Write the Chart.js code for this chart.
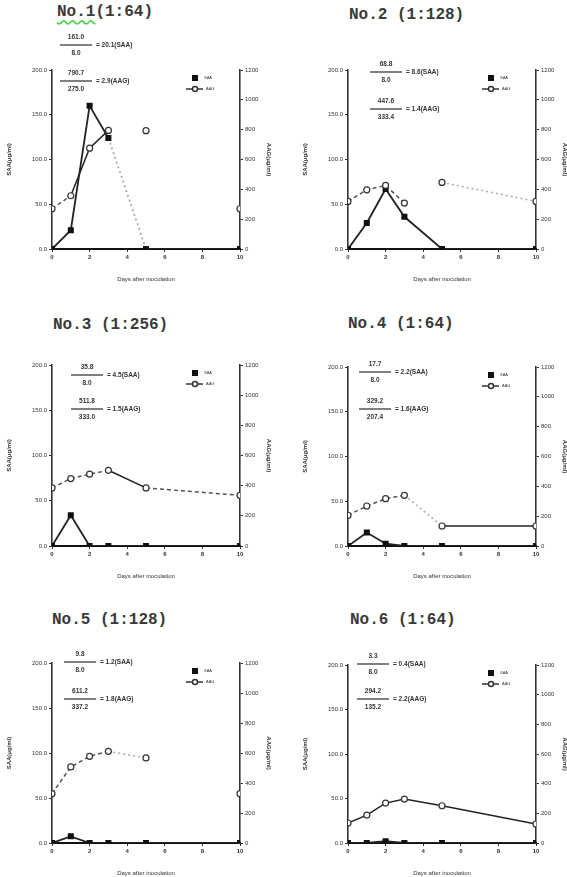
<!DOCTYPE html>
<html>
<head>
    <title>SAA / AAG after inoculation</title>
    <script src="https://cdn.jsdelivr.net/npm/chart.js@4.4.0/dist/chart.umd.min.js"></script>
    <style>
        body {
            margin: 0;
            width: 567px;
            height: 877px;
            overflow: hidden;
            background: #fff;
            position: relative;
            font-family: "Liberation Sans", Arial, sans-serif;
        }
        .title {
            position: absolute;
            font-family: "Liberation Mono", "DejaVu Sans Mono", monospace;
            font-weight: bold;
            font-size: 16px;
            color: #3a3a3a;
            white-space: pre;
            line-height: 16px;
        }
        .squiggle {
            text-decoration: underline wavy #4c4;
            text-underline-offset: 3px;
        }
        canvas {
            position: absolute;
        }
    </style>
</head>
<body>
    <div class="title" style="left:57px; top:4px;"><span class="squiggle">No.1</span>(1:64)</div>
    <div class="title" style="left:349px; top:7px;">No.2 (1:128)</div>
    <div class="title" style="left:53px; top:317px;">No.3 (1:256)</div>
    <div class="title" style="left:348px; top:316px;">No.4 (1:64)</div>
    <div class="title" style="left:52px; top:612px;">No.5 (1:128)</div>
    <div class="title" style="left:350px; top:612px;">No.6 (1:64)</div>

    <canvas id="c1"></canvas>
    <canvas id="c2"></canvas>
    <canvas id="c3"></canvas>
    <canvas id="c4"></canvas>
    <canvas id="c5"></canvas>
    <canvas id="c6"></canvas>

    <script>
        // Days after inoculation (same for every animal)
        const days = [0, 1, 2, 3, 5, 10];

        // SAA (ug/ml, left axis) per animal
        const saa1 = [0, 21, 160, 124, 0, 0];
        const saa2 = [0, 29, 67, 36, 0, 0];
        const saa3 = [0, 34, 0, 0, 0, 0];
        const saa4 = [0, 15, 2.6, 0, 0, 0];
        const saa5 = [0, 7.4, 0, 0, 0, 0];
        const saa6 = [0, 0, 2, 0, 0, 0];

        // AAG (ug/ml, right axis) per animal
        const aag1 = [270, 357, 676, 795, 793, 270];
        const aag2 = [319, 397, 426, 308, 446, 319];
        const aag3 = [385, 447, 476, 502, 385, 336];
        const aag4 = [206, 268, 317, 340, 134, 134];
        const aag5 = [329, 507, 578, 611, 567, 329];
        const aag6 = [135, 188, 269, 296, 251, 128];

        // Fold-change annotations: [numerator, denominator, result]
        const saaRatio1 = ['161.0', '8.0', '= 20.1(SAA)'];
        const aagRatio1 = ['790.7', '275.0', '= 2.9(AAG)'];
        const saaRatio2 = ['68.8', '8.0', '= 8.6(SAA)'];
        const aagRatio2 = ['447.6', '333.4', '= 1.4(AAG)'];
        const saaRatio3 = ['35.8', '8.0', '= 4.5(SAA)'];
        const aagRatio3 = ['511.8', '333.0', '= 1.5(AAG)'];
        const saaRatio4 = ['17.7', '8.0', '= 2.2(SAA)'];
        const aagRatio4 = ['329.2', '207.4', '= 1.6(AAG)'];
        const saaRatio5 = ['9.8', '8.0', '= 1.2(SAA)'];
        const aagRatio5 = ['611.2', '337.2', '= 1.8(AAG)'];
        const saaRatio6 = ['3.3', '8.0', '= 0.4(SAA)'];
        const aagRatio6 = ['294.2', '135.2', '= 2.2(AAG)'];

        // Axis ticks
        const saaMax = 200, saaStep = 50;
        const aagMax = 1200, aagStep = 200;
        const dayMax = 10, dayStep = 2;

        // Line style of each segment (segment i joins point i and i+1)
        const lineStyles = {
            solid: { color: '#222', dash: [] },
            dash:  { color: '#555', dash: [4, 3] },
            dot:   { color: '#aaa', dash: [2, 3] },
            none:  { color: 'rgba(0,0,0,0)', dash: [] }
        };

        const panels = [
            { id: 'c1', left: 0,   top: 0,   padTop: 70, plotH: 179, saa: saa1, aag: aag1,
              saaSeg: ['solid', 'solid', 'solid', 'dot', 'solid'],
              aagSeg: ['dash', 'solid', 'solid', 'none', 'none'],
              saaR: saaRatio1, aagR: aagRatio1, fx: 24, fs: -25, fa: 11 },
            { id: 'c2', left: 296, top: 0,   padTop: 70, plotH: 179, saa: saa2, aag: aag2,
              saaSeg: ['solid', 'solid', 'solid', 'solid', 'solid'],
              aagSeg: ['dash', 'dash', 'dash', 'none', 'dot'],
              saaR: saaRatio2, aagR: aagRatio2, fx: 38, fs: 2, fa: 39 },
            { id: 'c3', left: 0,   top: 295, padTop: 70, plotH: 181, saa: saa3, aag: aag3,
              saaSeg: ['solid', 'solid', 'solid', 'solid', 'solid'],
              aagSeg: ['dash', 'dash', 'dash', 'solid', 'dash'],
              saaR: saaRatio3, aagR: aagRatio3, fx: 35, fs: 10, fa: 44 },
            { id: 'c4', left: 296, top: 295, padTop: 72, plotH: 179, saa: saa4, aag: aag4,
              saaSeg: ['solid', 'solid', 'solid', 'solid', 'solid'],
              aagSeg: ['dash', 'dash', 'dash', 'dot', 'solid'],
              saaR: saaRatio4, aagR: aagRatio4, fx: 27, fs: 5, fa: 42 },
            { id: 'c5', left: 0,   top: 590, padTop: 73, plotH: 180, saa: saa5, aag: aag5,
              saaSeg: ['solid', 'solid', 'solid', 'solid', 'solid'],
              aagSeg: ['dash', 'dash', 'dash', 'dot', 'none'],
              saaR: saaRatio5, aagR: aagRatio5, fx: 28, fs: -1, fa: 36 },
            { id: 'c6', left: 296, top: 590, padTop: 75, plotH: 178, saa: saa6, aag: aag6,
              saaSeg: ['solid', 'solid', 'solid', 'solid', 'solid'],
              aagSeg: ['solid', 'solid', 'solid', 'solid', 'solid'],
              saaR: saaRatio6, aagR: aagRatio6, fx: 25, fs: -1, fa: 34 }
        ];

        function drawFraction(ctx, cx, barY, r) {
            ctx.save();
            ctx.strokeStyle = '#555';
            ctx.lineWidth = 1.5;
            ctx.beginPath();
            ctx.moveTo(cx - 16, barY);
            ctx.lineTo(cx + 16, barY);
            ctx.stroke();
            ctx.fillStyle = '#333';
            ctx.font = 'bold 6.5px "Liberation Sans", Arial';
            ctx.textAlign = 'center';
            ctx.textBaseline = 'middle';
            ctx.fillText(r[0], cx, barY - 8);
            ctx.fillText(r[1], cx, barY + 8);
            ctx.textAlign = 'left';
            ctx.fillText(r[2], cx + 20, barY);
            ctx.restore();
        }

        // Fractions and the small legend
        const annotate = {
            id: 'annotate',
            afterDraw(chart) {
                const p = chart.options.plugins.annotate;
                const ctx = chart.ctx;
                const a = chart.chartArea;
                drawFraction(ctx, a.left + p.fx, a.top + p.fs, p.saaR);
                drawFraction(ctx, a.left + p.fx, a.top + p.fa, p.aagR);

                // legend
                const lx = a.right - 45, ly = a.top + 8;
                ctx.save();
                ctx.fillStyle = '#111';
                ctx.fillRect(lx - 3, ly - 3, 6, 6);
                ctx.strokeStyle = '#333';
                ctx.lineWidth = 1.5;
                ctx.beginPath();
                ctx.moveTo(lx - 9, ly + 11);
                ctx.lineTo(lx + 8, ly + 11);
                ctx.stroke();
                ctx.beginPath();
                ctx.fillStyle = '#fff';
                ctx.arc(lx, ly + 11, 2.5, 0, Math.PI * 2);
                ctx.fill();
                ctx.stroke();
                ctx.fillStyle = '#333';
                ctx.font = '4px "Liberation Sans", Arial';
                ctx.textBaseline = 'middle';
                ctx.fillText('SAA', lx + 9, ly);
                ctx.fillText('AAG', lx + 11, ly + 11);
                ctx.restore();
            }
        };

        function segStyle(segs, key) {
            return ctx => lineStyles[segs[ctx.p0DataIndex]][key];
        }

        const tickFont = { family: '"Liberation Sans", Arial', size: 6 };

        panels.forEach(p => {
            const canvas = document.getElementById(p.id);
            const w = 280;
            const h = p.padTop + p.plotH + 43;
            canvas.width = w;
            canvas.height = h;
            canvas.style.left = p.left + 'px';
            canvas.style.top = p.top + 'px';

            const saaPts = days.map((d, i) => ({ x: d, y: p.saa[i] }));
            const aagPts = days.map((d, i) => ({ x: d, y: p.aag[i] }));

            new Chart(canvas, {
                type: 'line',
                data: {
                    datasets: [
                        {
                            label: 'AAG',
                            data: aagPts,
                            yAxisID: 'y1',
                            borderWidth: 1.5,
                            borderColor: '#444',
                            pointStyle: 'circle',
                            pointRadius: 3,
                            pointBackgroundColor: '#fff',
                            pointBorderColor: '#333',
                            pointBorderWidth: 1.2,
                            segment: {
                                borderColor: segStyle(p.aagSeg, 'color'),
                                borderDash: segStyle(p.aagSeg, 'dash')
                            }
                        },
                        {
                            label: 'SAA',
                            data: saaPts,
                            yAxisID: 'y',
                            borderWidth: 1.8,
                            borderColor: '#222',
                            pointStyle: 'rect',
                            pointRadius: 3,
                            pointBackgroundColor: '#111',
                            pointBorderColor: '#111',
                            segment: {
                                borderColor: segStyle(p.saaSeg, 'color'),
                                borderDash: segStyle(p.saaSeg, 'dash')
                            }
                        }
                    ]
                },
                options: {
                    responsive: false,
                    animation: false,
                    layout: { padding: { left: 6, right: 8, top: p.padTop, bottom: 5 } },
                    plugins: {
                        legend: { display: false },
                        tooltip: { enabled: false },
                        annotate: p
                    },
                    scales: {
                        x: {
                            type: 'linear',
                            min: 0,
                            max: dayMax,
                            afterFit: s => { s.height = 38; },
                            ticks: { stepSize: dayStep, font: { ...tickFont, weight: 'bold' }, color: '#333', padding: 2 },
                            grid: { drawOnChartArea: false, tickLength: 3, color: '#333' },
                            border: { color: '#111', width: 2 },
                            title: {
                                display: true,
                                text: 'Days after inoculation',
                                font: { family: '"Liberation Sans", Arial', size: 6 },
                                color: '#333',
                                padding: { top: 10 }
                            }
                        },
                        y: {
                            position: 'left',
                            min: 0,
                            max: saaMax,
                            afterFit: s => { s.width = 46; },
                            ticks: {
                                stepSize: saaStep,
                                font: tickFont,
                                color: '#333',
                                padding: 2,
                                callback: v => v.toFixed(1)
                            },
                            grid: { drawOnChartArea: false, tickLength: 3, color: '#333' },
                            border: { color: '#333', width: 1.6, dash: [1.6, 4] },
                            title: {
                                display: true,
                                text: 'SAA(μg/ml)',
                                font: { family: '"Liberation Sans", Arial', size: 6, weight: 'bold' },
                                color: '#333',
                                padding: 0
                            }
                        },
                        y1: {
                            position: 'right',
                            min: 0,
                            max: aagMax,
                            afterFit: s => { s.width = 32; },
                            ticks: {
                                stepSize: aagStep,
                                font: tickFont,
                                color: '#333',
                                padding: 2,
                                callback: v => String(v)
                            },
                            grid: { drawOnChartArea: false, tickLength: 3, color: '#333' },
                            border: { color: '#333', width: 1.6, dash: [1.6, 4] },
                            title: {
                                display: true,
                                text: 'AAG(μg/ml)',
                                font: { family: '"Liberation Sans", Arial', size: 6, weight: 'bold' },
                                color: '#333',
                                padding: 0
                            }
                        }
                    }
                },
                plugins: [annotate]
            });
        });
    </script>
</body>
</html>
